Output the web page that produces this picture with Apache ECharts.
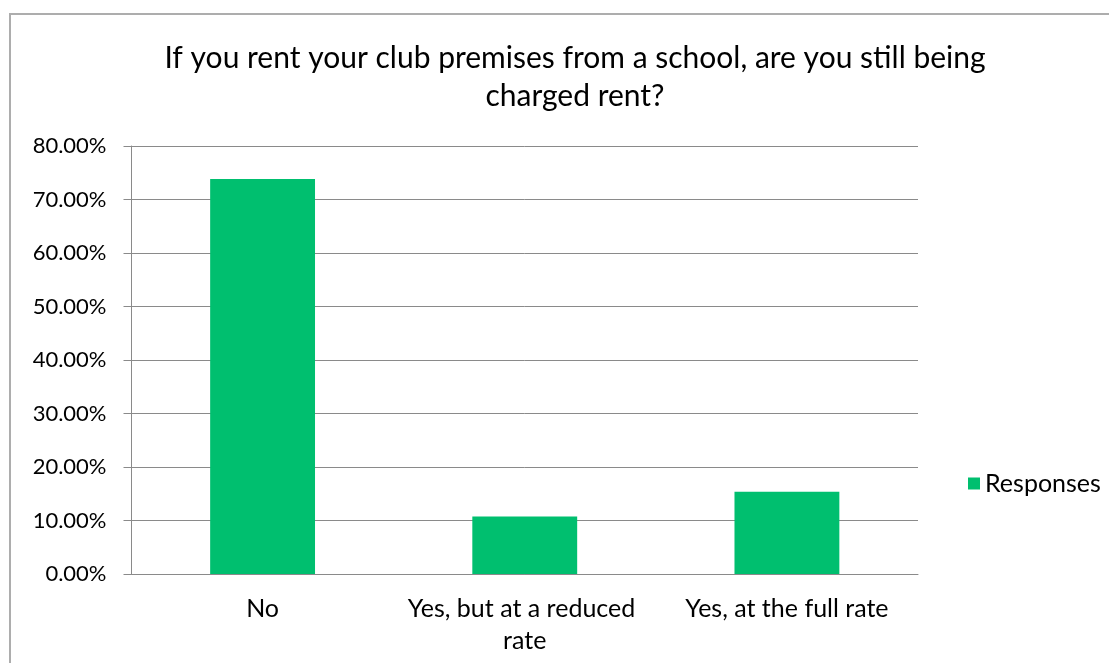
<!DOCTYPE html>
<html>
<head>
<meta charset="utf-8">
<script src="https://cdn.jsdelivr.net/npm/echarts@6/dist/echarts.min.js"></script>
<style>
  html, body { margin: 0; padding: 0; background: #fff; }
  #chart { width: 1109px; height: 663px; }
</style>
</head>
<body>
<div id="chart"></div>
<script>
// Survey answers and the share of responses for each (percent)
const categories = ['No', 'Yes, but at a reduced rate', 'Yes, at the full rate'];
const responses = [73.85, 10.77, 15.38];
const seriesName = 'Responses';
const titleText = 'If you rent your club premises from a school, are you still being\ncharged rent?';

const font = 'Lato, "Noto Sans", sans-serif';
const gridColor = '#8a8a8a';

const chart = echarts.init(document.getElementById('chart'), null, { renderer: 'canvas' });

chart.setOption({
  backgroundColor: '#ffffff',
  animation: false,
  graphic: [{
    type: 'rect',
    shape: { x: 10, y: 14, width: 1200, height: 800 },
    style: { fill: 'none', stroke: '#adadad', lineWidth: 2 },
    silent: true
  }],
  title: {
    text: titleText,
    left: 570,
    top: 34,
    textAlign: 'center',
    textStyle: {
      fontFamily: font,
      fontSize: 30,
      fontWeight: 'normal',
      color: '#000',
      lineHeight: 38
    }
  },
  legend: {
    orient: 'vertical',
    left: 963,
    top: 466,
    icon: 'rect',
    itemWidth: 12,
    itemHeight: 12,
    textStyle: { fontFamily: font, fontSize: 25, color: '#000' },
    data: [seriesName]
  },
  grid: { left: 131.5, right: 191, top: 146, bottom: 89, containLabel: false },
  xAxis: {
    type: 'category',
    data: categories,
    axisLine: { lineStyle: { color: gridColor, width: 1 } },
    axisTick: { length: 8, lineStyle: { color: gridColor } },
    axisLabel: {
      fontFamily: font,
      fontSize: 25,
      color: '#000',
      margin: 19,
      lineHeight: 32,
      width: 250,
      overflow: 'break',
      interval: 0
    }
  },
  yAxis: {
    type: 'value',
    min: 0,
    max: 80,
    interval: 10,
    axisLine: { show: true, lineStyle: { color: gridColor, width: 1 } },
    axisTick: { show: true, length: 8, lineStyle: { color: gridColor } },
    splitLine: { lineStyle: { color: gridColor, width: 1 } },
    axisLabel: {
      fontFamily: font,
      fontSize: 22,
      color: '#000',
      margin: 25,
      formatter: v => v.toFixed(2) + '%'
    }
  },
  series: [{
    name: seriesName,
    type: 'bar',
    data: responses,
    barWidth: '40%',
    itemStyle: { color: '#00BF6F' }
  }]
});
</script>
</body>
</html>
